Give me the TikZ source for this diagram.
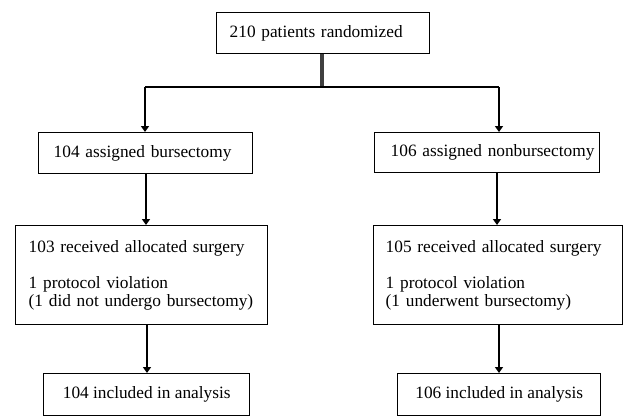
\documentclass[tikz,border=0pt]{standalone}
\usepackage{fontspec}
\setmainfont{Liberation Serif}
\usetikzlibrary{arrows.meta}
\begin{document}
\begin{tikzpicture}[x=1pt,y=-1pt,
  box/.style={draw=black, line width=1.4pt, inner sep=0pt, anchor=north west,
    font=\fontsize{17.3}{18}\selectfont},
  arr/.style={line width=1.8pt, -{Triangle[length=6pt,width=8pt]}},
  ln/.style={line width=1.8pt}]
\useasboundingbox (0,0) rectangle (624,418);
\node[box, minimum width=213pt, minimum height=41pt, text width=199pt, align=left, inner xsep=7pt] (top) at (216,12) {\hspace*{6pt}210 patients randomized};
\node[box, minimum width=214pt, minimum height=41pt, text width=200pt, align=left, inner xsep=7pt] (l1) at (38,132) {\hspace*{8pt}104 assigned bursectomy};
\node[box, minimum width=225pt, minimum height=40pt, text width=225pt, align=left, inner xsep=0pt] (r1) at (374,132) {\hspace*{16pt}\mbox{106 assigned nonbursectomy}};
\node[box, minimum width=252pt, minimum height=99pt, text width=240pt, align=left, inner xsep=6pt] (l2) at (15,225) {\hspace*{7pt}103 received allocated surgery\\[18pt]\hspace*{7pt}1 protocol violation\\\hspace*{7pt}(1 did not undergo bursectomy)};
\node[box, minimum width=249pt, minimum height=99pt, text width=237pt, align=left, inner xsep=6pt] (r2) at (373,225) {\hspace*{6pt}105 received allocated surgery\\[18pt]\hspace*{6pt}1 protocol violation\\\hspace*{6pt}(1 underwent bursectomy)};
\node[box, minimum width=206pt, minimum height=42pt, align=center] (l3) at (43,373) {104 included in analysis};
\node[box, minimum width=203pt, minimum height=42pt, align=center] (r3) at (397,373) {106 included in analysis};
\coordinate (split) at (322,87);
\coordinate (sl) at (145,87);
\coordinate (sr) at (499,87);
\draw[line width=3.5pt, black!75] (top.south -| split) -- (split);
\draw[ln] (sl) -- (sr);
\draw[arr] (sl) -- (sl |- l1.north);
\draw[arr] (sr) -- (sr |- r1.north);
\draw[arr] (l1.south -| 146,0) -- (146,0 |- l2.north);
\draw[arr] (r1.south -| 497,0) -- (497,0 |- r2.north);
\draw[arr] (l2.south -| 147,0) -- (147,0 |- l3.north);
\draw[arr] (r2.south -| 499,0) -- (499,0 |- r3.north);
\end{tikzpicture}
\end{document}
